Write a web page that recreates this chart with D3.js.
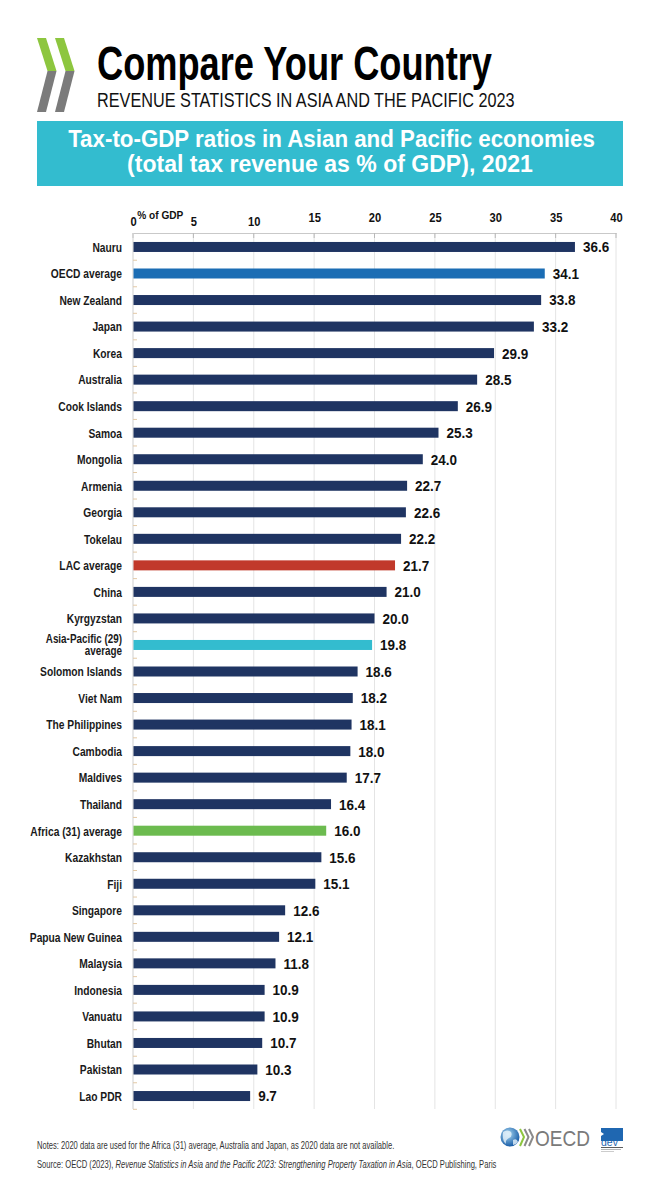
<!DOCTYPE html>
<html>
<head>
<meta charset="utf-8">
<script src="https://cdn.jsdelivr.net/npm/d3@7"></script>
<style>
  html, body { margin: 0; padding: 0; background: #fff; }
  svg { display: block; }
</style>
</head>
<body>
<svg id="chart" width="660" height="1200"></svg>
<script>
const categories = ["Nauru","OECD average","New Zealand","Japan","Korea","Australia","Cook Islands","Samoa","Mongolia","Armenia","Georgia","Tokelau","LAC average","China","Kyrgyzstan","Asia-Pacific (29) average","Solomon Islands","Viet Nam","The Philippines","Cambodia","Maldives","Thailand","Africa (31) average","Kazakhstan","Fiji","Singapore","Papua New Guinea","Malaysia","Indonesia","Vanuatu","Bhutan","Pakistan","Lao PDR"];
const values = [36.6,34.1,33.8,33.2,29.9,28.5,26.9,25.3,24.0,22.7,22.6,22.2,21.7,21.0,20.0,19.8,18.6,18.2,18.1,18.0,17.7,16.4,16.0,15.6,15.1,12.6,12.1,11.8,10.9,10.9,10.7,10.3,9.7];
const highlightNames = ["OECD average","LAC average","Asia-Pacific (29) average","Africa (31) average"];
const highlightColors = ["#1b6db4","#c1392b","#33bccf","#6cbb4f"];
const tickValues = [0,5,10,15,20,25,30,35,40];

const data = categories.map((c,i)=>({name:c, value:values[i]}));
const svg = d3.select("#chart");
const FONT = '"Liberation Sans", Arial, Helvetica, sans-serif';

// condensed text helper: horizontal scale applied via transform
function ctext(parent, x, y, str, o) {
  o = o || {};
  const g = parent.append("g").attr("transform", `translate(${x},${y}) scale(${o.sx||1},1)`);
  const t = g.append("text").attr("x",0).attr("y",0)
    .attr("font-family",FONT).attr("font-size",o.size||12)
    .attr("font-weight",o.weight||"normal").attr("fill",o.fill||"#111")
    .attr("text-anchor",o.anchor||"start");
  if (str !== null) t.text(str);
  return {g, t};
}
// fit text to a target width by horizontal scaling
function fitWidth(obj, x, y, w) {
  const len = obj.t.node().getComputedTextLength();
  obj.g.attr("transform", `translate(${x},${y}) scale(${w/len},1)`);
}

// ---------- Header ----------
const logo = svg.append("g");
[0, 18].forEach(dx => {
  logo.append("polygon").attr("points", [[37+dx,38],[46+dx,38],[56.5+dx,71],[47.5+dx,71]].map(p=>p.join(",")).join(" ")).attr("fill","#8dc63f");
  logo.append("polygon").attr("points", [[47.5+dx,71],[56.5+dx,71],[46+dx,112],[37+dx,112]].map(p=>p.join(",")).join(" ")).attr("fill","#7b7b7b");
});

const t1 = ctext(svg, 97, 80, "Compare Your Country", {size:49, weight:"bold", fill:"#000"});
fitWidth(t1, 97, 80, 395);
const t2 = ctext(svg, 97, 107, "REVENUE STATISTICS IN ASIA AND THE PACIFIC 2023", {size:19.5, fill:"#111"});
fitWidth(t2, 97, 107, 418);

svg.append("rect").attr("x",37).attr("y",121).attr("width",586).attr("height",65).attr("fill","#33bccf");
const b1 = ctext(svg, 331.5, 146.5, "Tax-to-GDP ratios in Asian and Pacific economies", {size:23, weight:"bold", fill:"#fff", anchor:"middle"});
fitWidth(b1, 331.5, 146.5, 527);
const b2 = ctext(svg, 330, 171.5, "(total tax revenue as % of GDP), 2021", {size:23, weight:"bold", fill:"#fff", anchor:"middle"});
fitWidth(b2, 330, 171.5, 406);

// ---------- Chart ----------
const x = d3.scaleLinear().domain([0,40]).range([133,616]);
const y = d3.scaleBand().domain(categories).range([233.7,1109.3]).paddingInner(0.623).paddingOuter(0.3115);
const step = y.step();

// grid
svg.append("g").selectAll("line").data(tickValues.slice(1)).join("line")
  .attr("x1",d=>x(d)).attr("x2",d=>x(d)).attr("y1",233).attr("y2",1109)
  .attr("stroke","#e4e4e4").attr("stroke-width",1);

// top axis
const xAxis = svg.append("g").attr("transform","translate(0,233)")
  .call(d3.axisTop(x).tickValues(tickValues).tickSize(0).tickPadding(0).tickFormat(d3.format("d")));
xAxis.select(".domain").attr("stroke","#c9c9c9");
xAxis.selectAll("text")
  .attr("font-family",FONT).attr("font-weight","bold").attr("font-size",12).attr("fill","#111")
  .attr("dy",0)
  .attr("y",d=> d < 15 ? -6.7 : -10.7)
  .attr("transform","scale(0.93,1)");
// small ticks on top axis going down
svg.append("g").selectAll("line").data(tickValues).join("line")
  .attr("x1",d=>x(d)).attr("x2",d=>x(d)).attr("y1",233).attr("y2",238).attr("stroke","#b8b8b8");

ctext(svg, 137.3, 218.5, "% of GDP", {size:11, weight:"bold", sx:0.92});

// left axis line
svg.append("line").attr("x1",133).attr("x2",133).attr("y1",233).attr("y2",1109).attr("stroke","#cfcfcf");
// tick marks between rows
svg.append("g").selectAll("line").data(categories).join("line")
  .attr("x1",133).attr("x2",137)
  .attr("y1",d=> y(d) + y.bandwidth()/2 + step/2)
  .attr("y2",d=> y(d) + y.bandwidth()/2 + step/2)
  .attr("stroke","#e3c9a6");

// bars
svg.append("g").selectAll("rect").data(data).join("rect")
  .attr("x",x(0)+0.5).attr("y",d=>y(d.name)).attr("height",y.bandwidth())
  .attr("width",d=>x(d.value)-x(0)-0.5)
  .attr("fill",d=>{ const k=highlightNames.indexOf(d.name); return k>=0?highlightColors[k]:"#1f3462"; });

// value labels
svg.append("g").selectAll("text").data(data).join("text")
  .attr("transform",d=>`translate(${x(d.value)+8},${y(d.name)+y.bandwidth()/2+5.4}) scale(0.9,1)`)
  .attr("font-family",FONT).attr("font-weight","bold").attr("font-size",15).attr("fill","#111")
  .text(d=>d3.format(".1f")(d.value));

// category labels (the long one wraps onto two lines)
const labelGroup = svg.append("g");
data.forEach(d => {
  const cy = y(d.name)+y.bandwidth()/2;
  const lines = d.name === "Asia-Pacific (29) average" ? ["Asia-Pacific (29)","average"] : [d.name];
  const lh = 11.8;
  const y0 = cy + 4.8 - (lines.length-1)*lh/2 - (lines.length>1 ? 0.6 : 0);
  lines.forEach((ln, i) => {
    labelGroup.append("text")
      .attr("transform",`translate(122,${y0 + i*lh}) scale(0.76,1)`)
      .attr("text-anchor","end")
      .attr("font-family",FONT).attr("font-weight","bold").attr("font-size",lines.length>1?13:13.5).attr("fill","#1a1a1a")
      .text(ln);
  });
});

// ---------- Footer ----------
const n1 = ctext(svg, 37, 1149, "Notes: 2020 data are used for the Africa (31) average, Australia and Japan, as 2020 data are not available.", {size:10.5, fill:"#333"});
fitWidth(n1, 37, 1149, 358);
const n2 = ctext(svg, 37, 1168, null, {size:10.5, fill:"#333"});
n2.t.append("tspan").text("Source: OECD (2023), ");
n2.t.append("tspan").attr("font-style","italic").text("Revenue Statistics in Asia and the Pacific 2023: Strengthening Property Taxation in Asia");
n2.t.append("tspan").text(", OECD Publishing, Paris");
fitWidth(n2, 37, 1168, 460);

// OECD logo
const ol = svg.append("g");
const grad = svg.append("defs").append("radialGradient").attr("id","globe").attr("cx","40%").attr("cy","35%").attr("r","65%");
grad.append("stop").attr("offset","0%").attr("stop-color","#a8d8f2");
grad.append("stop").attr("offset","100%").attr("stop-color","#1a5ea8");
ol.append("circle").attr("cx",510).attr("cy",1137).attr("r",9.5).attr("fill","url(#globe)");
ol.append("path").attr("d","M503,1132 q4,-3 8,0 q2,4 -2,6 q-4,2 -3,6 q-4,-3 -3,-12 Z M513,1140 q4,-2 5,2 q-2,3 -5,3 Z").attr("fill","#e8f4fb").attr("opacity",0.8);
[0,4.5,9].forEach((dx,i)=>{
  ol.append("path").attr("d",`M${520+dx},1129 L${524+dx},1137 L${520+dx},1146`).attr("fill","none")
    .attr("stroke", i===0?"#8dc63f":"#8a8a8a").attr("stroke-width",2);
});
const oe = ctext(ol, 535, 1146, "OECD", {size:22, fill:"#7a7a7a"});
fitWidth(oe, 535, 1146, 55);

// dev logo
svg.append("path").attr("d","M601,1128 L623,1128 L623,1141 L601,1141 L601,1136 L604,1134 L601,1132 Z").attr("fill","#1f67b1");
ctext(svg, 601, 1146, "dev", {size:10, fill:"#1f67b1", sx:1.05});
svg.append("line").attr("x1",601).attr("x2",623).attr("y1",1147.5).attr("y2",1147.5).attr("stroke","#333").attr("stroke-width",0.8);
svg.append("line").attr("x1",601).attr("x2",621).attr("y1",1149.5).attr("y2",1149.5).attr("stroke","#888").attr("stroke-width",0.6);
svg.append("line").attr("x1",601).attr("x2",614).attr("y1",1151.5).attr("y2",1151.5).attr("stroke","#aaa").attr("stroke-width",0.6);
</script>
</body>
</html>
